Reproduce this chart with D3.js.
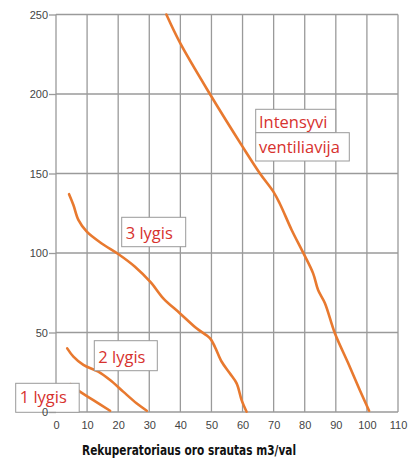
<!DOCTYPE html>
<html>
<head>
<meta charset="utf-8">
<script src="https://cdn.jsdelivr.net/npm/d3@7"></script>
<style>
  html, body { margin: 0; padding: 0; background: #fff; }
  svg { display: block; }
</style>
</head>
<body>
<svg id="chart" width="408" height="459"></svg>
<script>
// ---- data ----
const xTicks = [0, 10, 20, 30, 40, 50, 60, 70, 80, 90, 100, 110];
const yTicks = [0, 50, 100, 150, 200, 250];

const lvl1X = [4.7, 7.7, 12, 17.4];
const lvl1Y = [17.6, 12.8, 7.5, 0.8];

const lvl2X = [3.6, 5.6, 8.8, 13.6, 17.4, 21.6, 25.9, 29.2];
const lvl2Y = [40, 34.8, 29.6, 25.4, 20.1, 12.8, 5.5, 0.8];

const lvl3X = [4.2, 5.6, 7.2, 9.9, 14.7, 20, 25.4, 30.5, 34.5, 39.9, 45.2, 49.5, 51.1, 53.3, 55.9, 58.1, 59.7, 61.3];
const lvl3Y = [137, 130.2, 120.8, 113.4, 106, 99.4, 91.4, 81.5, 71.5, 62, 52.6, 46.4, 41, 31.6, 24.3, 18, 7.5, 0.2];

const intX = [35.5, 40, 49.5, 60, 65.6, 69.9, 72, 75.8, 79.5, 82.7, 84.3, 86.5, 89.7, 94, 97.7, 100.7];
const intY = [250, 231.8, 200, 166.9, 150, 138.6, 131, 114.5, 100.2, 87.2, 76.7, 68.4, 49.5, 30.6, 13.8, 0.8];

const seriesNames = ["1 lygis", "2 lygis", "3 lygis", "Intensyvi ventiliavija"];
const xTitle = "Rekuperatoriaus oro srautas m3/val";

// ---- layout ----
const svg = d3.select("#chart");
const x = d3.scaleLinear().domain([0, 110]).range([56, 398]);
const y = d3.scaleLinear().domain([0, 250]).range([412, 14.5]);

const gridColor = "#9a9a9a";
const lineColor = "#e8792f";
const red = "#d7322e";

// grid
const grid = svg.append("g");
grid.selectAll("line.v").data(xTicks).join("line")
  .attr("x1", d => x(d)).attr("x2", d => x(d))
  .attr("y1", y(250)).attr("y2", y(0))
  .attr("stroke", gridColor).attr("stroke-width", 1.3);
grid.selectAll("line.h").data(yTicks).join("line")
  .attr("x1", x(0)).attr("x2", x(110))
  .attr("y1", d => y(d)).attr("y2", d => y(d))
  .attr("stroke", gridColor).attr("stroke-width", 1.3);

// axes
const yAxis = svg.append("g").attr("transform", `translate(${x(0)},0)`)
  .call(d3.axisLeft(y).tickValues(yTicks).tickSize(7).tickPadding(1));
const xAxis = svg.append("g").attr("transform", `translate(0,${y(0)})`)
  .call(d3.axisBottom(x).tickValues(xTicks).tickSize(0).tickPadding(9));
[yAxis, xAxis].forEach(a => {
  a.select(".domain").remove();
  a.selectAll(".tick line").attr("stroke", gridColor).attr("stroke-width", 1.3);
  a.selectAll(".tick text")
    .attr("font-family", "'Liberation Sans', Arial, sans-serif")
    .attr("font-size", 11).attr("fill", "#444");
});

// curves
const series = [
  { xs: lvl1X, ys: lvl1Y },
  { xs: lvl2X, ys: lvl2Y },
  { xs: lvl3X, ys: lvl3Y },
  { xs: intX, ys: intY }
];
const line = d3.line().x(d => x(d[0])).y(d => y(d[1])).curve(d3.curveCatmullRom.alpha(0.5));
svg.append("g").selectAll("path").data(series).join("path")
  .attr("d", s => line(s.xs.map((v, i) => [v, s.ys[i]])))
  .attr("fill", "none").attr("stroke", lineColor)
  .attr("stroke-width", 2.6).attr("stroke-linecap", "round").attr("stroke-linejoin", "round");

// labels (boxes in pixel layout)
const labelBoxes = [
  { lines: [seriesNames[0]], x: 15.7, y: 383.3, w: 63.5, h: 29, base: 403 },
  { lines: [seriesNames[1]], x: 94.3, y: 340.7, w: 63, h: 30, base: 363 },
  { lines: [seriesNames[2]], x: 121.7, y: 217.3, w: 64, h: 29.4, base: 239 }
];
const fontFam = "'Open Sans', 'Noto Sans', sans-serif";
const lab = svg.append("g");
labelBoxes.forEach(b => {
  lab.append("rect").attr("x", b.x).attr("y", b.y).attr("width", b.w).attr("height", b.h)
    .attr("fill", "#fff").attr("stroke", "#9a9a9a").attr("stroke-width", 1);
  lab.append("text").attr("x", b.x + 4).attr("y", b.base)
    .attr("font-family", fontFam).attr("font-size", 16.5).attr("fill", red)
    .text(b.lines[0]);
});
// two-line label
const intParts = seriesNames[3].split(" ");
lab.append("rect").attr("x", 255.7).attr("y", 109.3).attr("width", 80).attr("height", 23.4)
  .attr("fill", "#fff").attr("stroke", "#9a9a9a").attr("stroke-width", 1);
lab.append("rect").attr("x", 255.7).attr("y", 132.7).attr("width", 93.6).attr("height", 28.3)
  .attr("fill", "#fff").attr("stroke", "#9a9a9a").attr("stroke-width", 1);
lab.append("text").attr("x", 259).attr("y", 127.5)
  .attr("font-family", fontFam).attr("font-size", 16.5).attr("fill", red).text(intParts[0]);
lab.append("text").attr("x", 259).attr("y", 153)
  .attr("font-family", fontFam).attr("font-size", 16.5).attr("fill", red).text(intParts[1]);

// re-raise y tick labels above boxes
yAxis.raise();

// x title
svg.append("text").attr("x", 82).attr("y", 455)
  .attr("font-family", "'Liberation Sans Narrow', 'DejaVu Sans Condensed', 'Roboto', sans-serif")
  .attr("font-weight", "bold").attr("font-size", 14).attr("fill", "#111")
  .attr("textLength", 214).attr("lengthAdjust", "spacingAndGlyphs")
  .text(xTitle);
</script>
</body>
</html>
